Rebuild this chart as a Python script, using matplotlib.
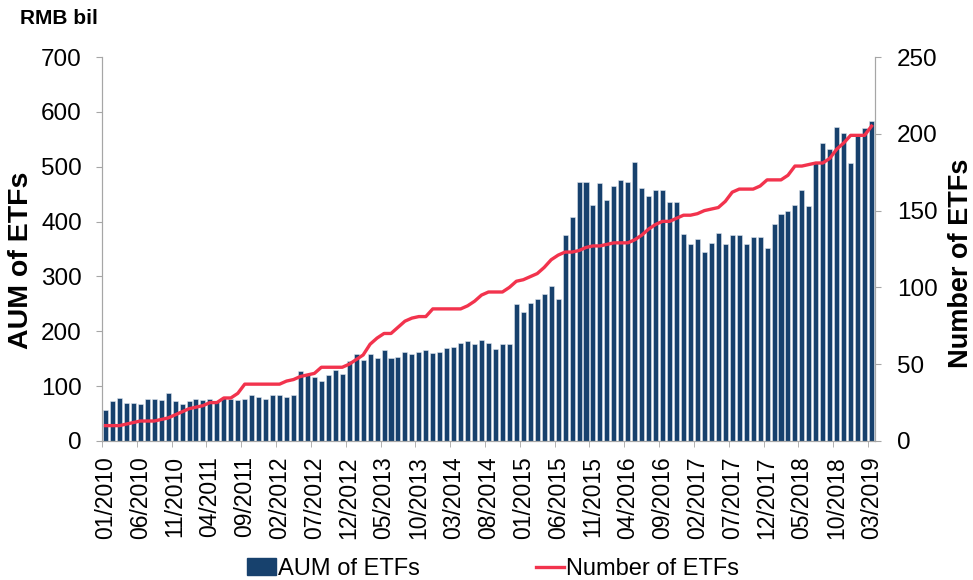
import matplotlib.pyplot as plt
from matplotlib.lines import Line2D
from matplotlib.patches import Patch

plt.rcParams['font.family'] = ['Liberation Sans', 'DejaVu Sans']

# monthly labels 01/2010 .. 03/2019
months = []
for yr in range(2010, 2020):
    for m in range(1, 13):
        months.append('%02d/%d' % (m, yr))
months = months[:111]

aum = [56, 72, 79, 70, 70, 68, 77, 77, 75, 88,
       72, 68, 72, 77, 75, 77, 72, 79, 77, 75,
       77, 84, 81, 77, 83, 84, 81, 84, 128, 120,
       117, 110, 121, 130, 123, 145, 158, 148, 158, 152,
       166, 151, 154, 162, 158, 162, 166, 160, 163, 169,
       171, 178, 182, 176, 184, 178, 167, 176, 176, 250,
       235, 251, 259, 268, 283, 259, 376, 409, 473, 473,
       431, 471, 439, 464, 475, 473, 508, 462, 446, 457,
       457, 435, 435, 378, 360, 369, 345, 361, 380, 360,
       376, 376, 360, 371, 372, 352, 396, 414, 420, 431,
       457, 429, 506, 543, 533, 572, 561, 506, 556, 570,
       583]

num_etfs = [10, 10, 10, 11, 12, 13, 13, 13, 14, 15,
            17, 19, 21, 22, 23, 25, 25, 28, 28, 31,
            37, 37, 37, 37, 37, 37, 39, 40, 42, 43,
            44, 48, 48, 48, 48, 50, 53, 56, 63, 67,
            70, 70, 74, 78, 80, 81, 81, 86, 86, 86,
            86, 86, 88, 91, 95, 97, 97, 97, 100, 104,
            105, 107, 109, 113, 118, 121, 123, 123, 124, 126,
            127, 127, 128, 129, 129, 129, 131, 134, 138, 141,
            143, 143, 145, 147, 147, 148, 150, 151, 152, 156,
            162, 164, 164, 164, 166, 170, 170, 170, 173, 179,
            179, 180, 181, 181, 184, 190, 194, 199, 199, 199,
            205]

bar_color = '#17416d'
line_color = '#f2334d'
axis_gray = '#a6a6a6'

fig = plt.figure(figsize=(9.73, 5.8), dpi=100)
ax = fig.add_axes([0.1048, 0.2397, 0.7945, 0.662])
x = list(range(len(months)))

ax.bar(x, aum, width=0.72, color=bar_color, edgecolor='#dfe6ee', linewidth=0.4)
ax.set_xlim(-0.5, len(months) - 0.5)
ax.set_ylim(0, 700)
ax.set_yticks(range(0, 701, 100))

ax2 = ax.twinx()
ax2.plot(x, num_etfs, color=line_color, lw=2.4)
ax2.set_ylim(0, 250)
ax2.set_yticks(range(0, 251, 50))

# labels at every 5th month, tick marks on category boundaries
lab_pos = list(range(0, len(months), 5))
ax.set_xticks(lab_pos)
ax.set_xticklabels([months[i] for i in lab_pos], rotation=90, fontsize=16.5)
ax.set_xticks([p - 0.5 for p in lab_pos], minor=True)
ax.tick_params(axis='x', which='major', length=0, pad=11)
ax.tick_params(axis='x', which='minor', length=4.5, color=axis_gray)

ax.tick_params(axis='y', labelsize=17.5, length=4.5, color=axis_gray, pad=10)
ax2.tick_params(axis='y', labelsize=17.5, length=4.5, color=axis_gray, pad=11.5)

for a in (ax, ax2):
    a.spines['top'].set_visible(False)
    for s in ('left', 'right', 'bottom'):
        a.spines[s].set_color(axis_gray)

ax.set_ylabel('AUM of ETFs', fontsize=20.5, fontweight='bold')
ax.yaxis.set_label_coords(-0.088, 0.47)
ax2.set_ylabel('Number of ETFs', fontsize=19.5, fontweight='bold')
ax2.yaxis.set_label_coords(1.0944, 0.464)
fig.text(0.021, 0.968, 'RMB bil', fontsize=15, fontweight='bold', va='center')

handles = [Patch(color=bar_color), Line2D([0], [0], color=line_color, lw=2.4)]
fig.legend(handles, ['AUM of ETFs', 'Number of ETFs'], loc='center',
           bbox_to_anchor=(0.507, 0.019), ncol=2, frameon=False, fontsize=17,
           handlelength=1.2, handletextpad=0.1, columnspacing=4.9)

fig.savefig('out.png', dpi=100)
